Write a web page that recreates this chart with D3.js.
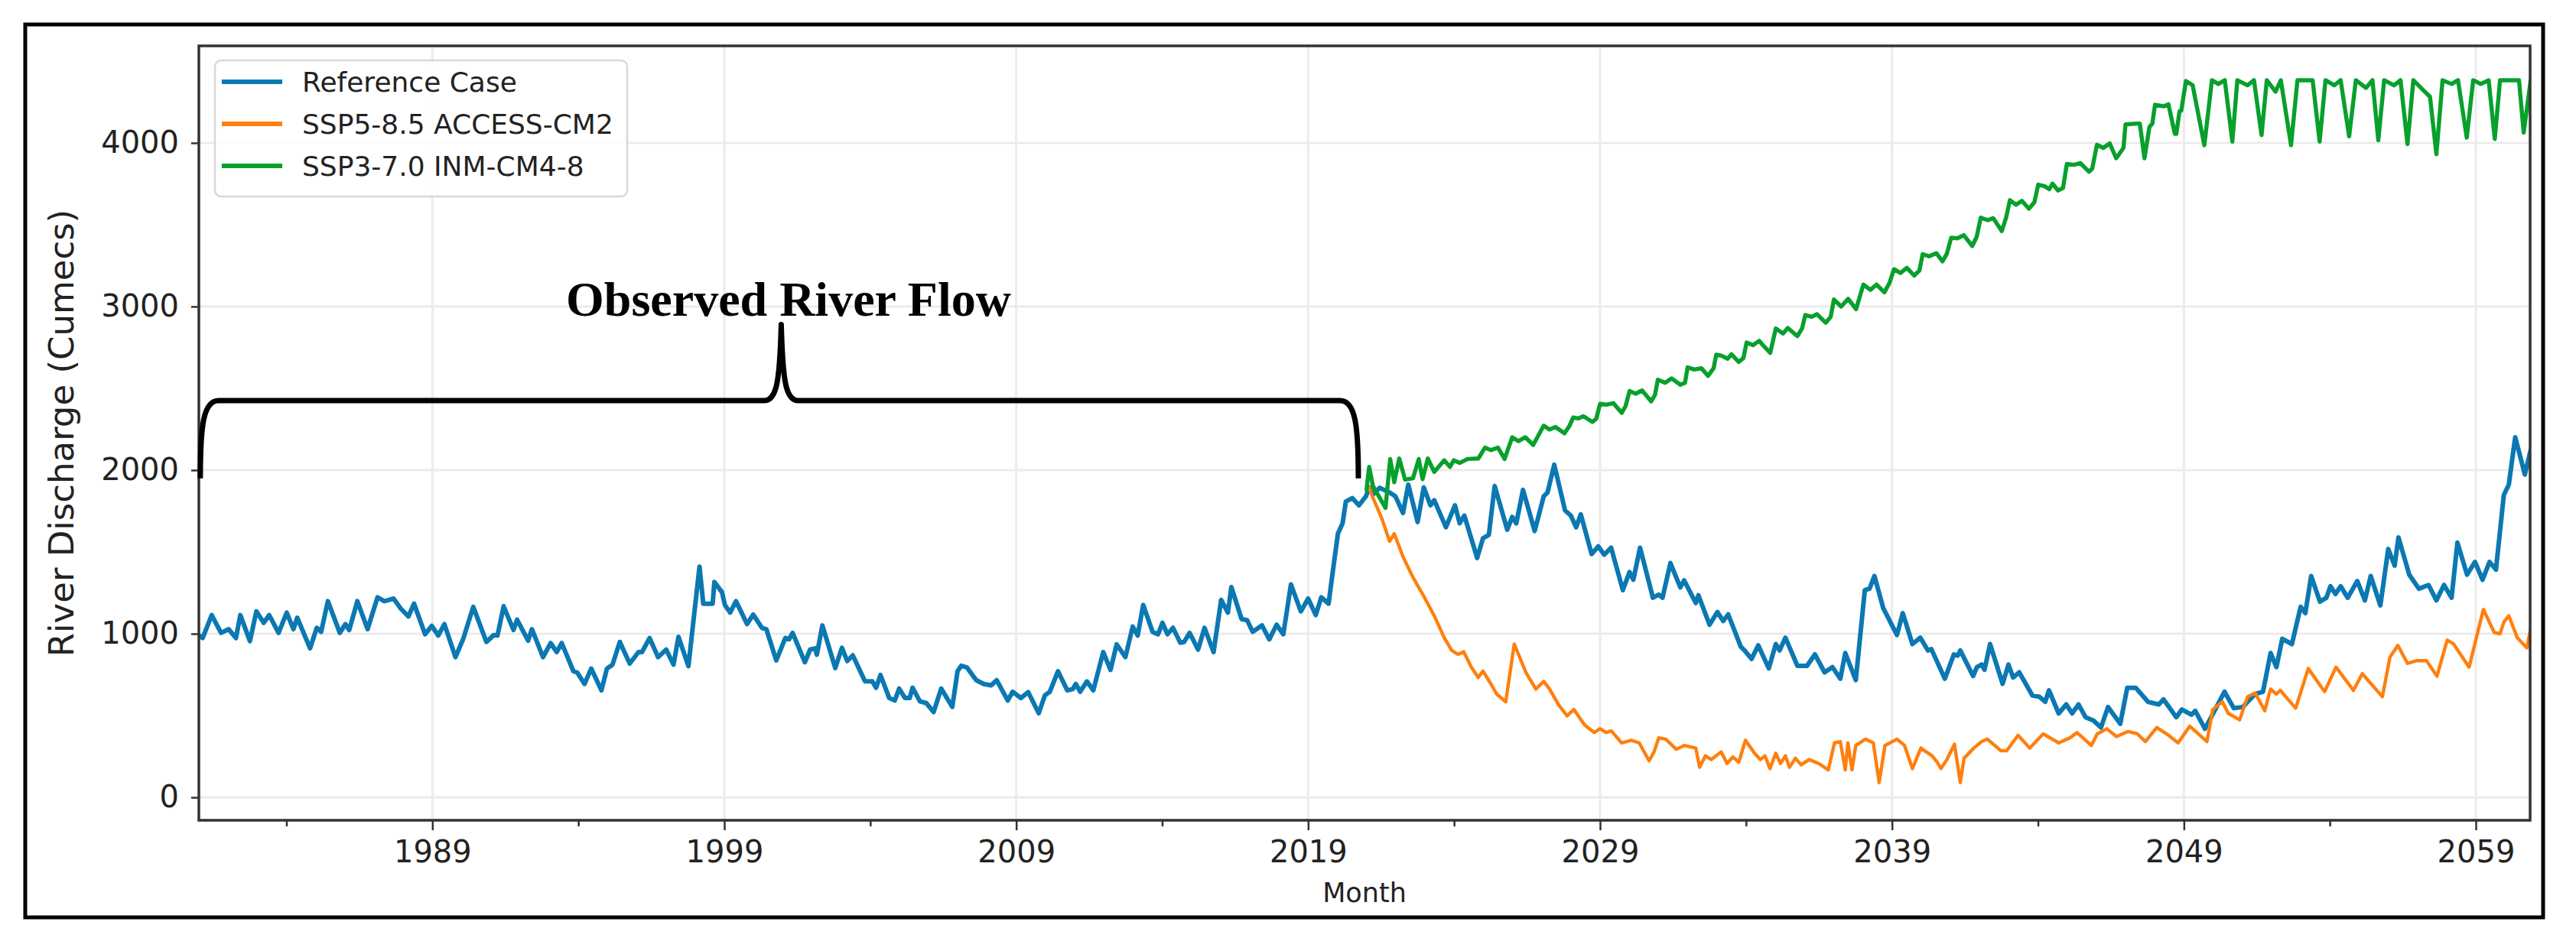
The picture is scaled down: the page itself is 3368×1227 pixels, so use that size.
<!DOCTYPE html>
<html>
<head>
<meta charset="utf-8">
<script src="https://cdn.jsdelivr.net/npm/d3@7"></script>
<style>
  html, body { margin: 0; padding: 0; background: #fff; }
  svg { display: block; }
</style>
</head>
<body>
<svg id="chart" width="3368" height="1227"></svg>
<script>
// ---------- DATA (decimal year, discharge in cumecs) ----------
const seriesNames = ["Reference Case", "SSP5-8.5 ACCESS-CM2", "SSP3-7.0 INM-CM4-8"];
const yTickValues = [0, 1000, 2000, 3000, 4000];
const xMajorTicks = [1989, 1999, 2009, 2019, 2029, 2039, 2049, 2059];
const xMinorTicks = [1984, 1994, 2004, 2014, 2024, 2034, 2044, 2054];
const annotationText = "Observed River Flow";

const referenceCase = [
[1981.00,990],[1981.13,974],[1981.44,1114],[1981.76,1005],[1982.02,1028],[1982.27,974],[1982.42,1114],[1982.75,955],
[1982.97,1137],[1983.22,1067],[1983.41,1114],[1983.73,1005],[1984.01,1129],[1984.24,1028],[1984.37,1098],[1984.81,911],
[1985.04,1036],[1985.19,1012],[1985.42,1199],[1985.83,1005],[1986.02,1059],[1986.15,1023],[1986.43,1199],[1986.78,1028],
[1987.12,1223],[1987.35,1199],[1987.67,1215],[1987.92,1153],[1988.18,1106],[1988.37,1184],[1988.75,997],[1988.98,1048],
[1989.20,989],[1989.41,1059],[1989.79,857],[1990.05,966],[1990.40,1164],[1990.85,950],[1991.10,992],[1991.23,989],
[1991.44,1168],[1991.78,1023],[1991.90,1086],[1992.28,958],[1992.41,1028],[1992.79,857],[1993.05,943],[1993.26,888],
[1993.43,943],[1993.83,771],[1993.96,763],[1994.21,693],[1994.44,787],[1994.79,654],[1994.98,787],[1995.17,811],
[1995.42,950],[1995.76,818],[1996.06,888],[1996.18,888],[1996.44,974],[1996.73,857],[1997.01,903],[1997.26,811],
[1997.43,981],[1997.77,802],[1998.15,1410],[1998.28,1184],[1998.60,1184],[1998.66,1316],[1998.92,1254],[1999.02,1176],
[1999.20,1129],[1999.40,1199],[1999.78,1059],[1999.99,1117],[2000.29,1036],[2000.44,1028],[2000.78,837],[2001.09,974],
[2001.22,966],[2001.34,1005],[2001.76,826],[2001.94,903],[2002.11,911],[2002.17,872],[2002.36,1051],[2002.80,790],
[2003.03,914],[2003.21,833],[2003.40,868],[2003.82,709],[2004.07,709],[2004.20,670],[2004.35,748],[2004.65,607],
[2004.84,592],[2004.99,665],[2005.19,607],[2005.35,607],[2005.45,670],[2005.70,587],[2005.92,576],[2006.17,522],
[2006.43,665],[2006.81,553],[2006.99,771],[2007.12,805],[2007.31,794],[2007.63,716],[2007.89,693],[2008.14,685],
[2008.33,716],[2008.71,592],[2008.88,646],[2009.16,607],[2009.41,643],[2009.77,514],[2009.98,623],[2010.15,646],
[2010.43,771],[2010.75,654],[2010.94,662],[2011.04,693],[2011.19,646],[2011.42,709],[2011.64,654],[2011.98,888],
[2012.23,779],[2012.44,935],[2012.74,857],[2012.99,1044],[2013.16,989],[2013.35,1176],[2013.67,1012],[2013.86,997],
[2014.01,1067],[2014.18,997],[2014.37,1036],[2014.62,945],[2014.75,950],[2014.94,1005],[2015.23,903],[2015.45,1036],
[2015.76,888],[2016.02,1207],[2016.25,1129],[2016.37,1285],[2016.72,1090],[2016.91,1083],[2017.10,1012],[2017.42,1051],
[2017.67,966],[2017.92,1055],[2018.15,997],[2018.41,1301],[2018.75,1137],[2019.00,1215],[2019.26,1114],[2019.45,1223],
[2019.70,1184],[2019.89,1441],[2020.02,1612],[2020.18,1675],[2020.29,1808],[2020.51,1829],[2020.74,1785],[2020.98,1840],
[2021.09,1895],[2021.22,1851],[2021.45,1892],[2021.79,1863],[2021.99,1840],[2022.25,1738],[2022.43,1911],[2022.75,1683],
[2022.96,1895],[2023.19,1785],[2023.32,1816],[2023.72,1651],[2024.03,1785],[2024.19,1675],[2024.35,1722],[2024.79,1463],
[2024.99,1584],[2025.19,1604],[2025.39,1903],[2025.82,1636],[2025.99,1714],[2026.13,1675],[2026.36,1879],[2026.76,1628],
[2027.07,1840],[2027.20,1863],[2027.43,2033],[2027.80,1754],[2028.00,1722],[2028.18,1651],[2028.34,1730],[2028.71,1487],
[2028.94,1534],[2029.14,1483],[2029.38,1526],[2029.78,1267],[2030.01,1377],[2030.14,1330],[2030.37,1526],[2030.81,1220],
[2031.01,1239],[2031.14,1220],[2031.41,1432],[2031.75,1283],[2031.88,1326],[2032.28,1188],[2032.37,1235],[2032.75,1055],
[2033.02,1133],[2033.22,1078],[2033.39,1118],[2033.82,921],[2033.95,898],[2034.19,846],[2034.42,929],[2034.78,788],
[2035.02,937],[2035.15,898],[2035.35,976],[2035.76,804],[2036.09,804],[2036.36,874],[2036.69,764],[2036.96,796],
[2037.23,725],[2037.40,882],[2037.76,717],[2038.07,1267],[2038.23,1275],[2038.40,1353],[2038.70,1157],[2039.17,992],
[2039.37,1126],[2039.70,937],[2039.97,976],[2040.23,898],[2040.35,906],[2040.81,725],[2041.12,874],[2041.25,866],
[2041.34,898],[2041.78,741],[2041.91,796],[2042.07,812],[2042.17,780],[2042.36,937],[2042.79,694],[2042.99,812],
[2043.15,733],[2043.36,764],[2043.81,623],[2044.05,615],[2044.25,584],[2044.38,654],[2044.71,513],[2044.97,568],
[2045.17,513],[2045.39,568],[2045.63,490],[2045.90,470],[2046.16,427],[2046.40,552],[2046.82,450],[2047.06,670],
[2047.35,670],[2047.77,584],[2048.14,568],[2048.30,599],[2048.74,490],[2048.93,537],[2049.26,505],[2049.39,529],
[2049.72,419],[2050.05,529],[2050.39,646],[2050.71,545],[2051.02,552],[2051.18,584],[2051.44,631],[2051.71,646],
[2051.97,882],[2052.17,796],[2052.37,969],[2052.70,937],[2053.00,1165],[2053.16,1126],[2053.36,1353],[2053.66,1196],
[2053.88,1220],[2054.02,1290],[2054.19,1243],[2054.37,1290],[2054.61,1220],[2054.94,1322],[2055.20,1204],[2055.40,1353],
[2055.73,1173],[2056.00,1518],[2056.22,1416],[2056.35,1589],[2056.72,1361],[2057.05,1275],[2057.38,1298],[2057.65,1204],
[2057.91,1298],[2058.17,1220],[2058.37,1557],[2058.70,1361],[2058.97,1439],[2059.23,1330],[2059.47,1439],[2059.69,1392],
[2059.96,1848],[2060.13,1911],[2060.35,2201],[2060.68,1973],[2060.90,2138]
];

const ssp585 = [
[2021.09,1895],[2021.18,1848],[2021.52,1706],[2021.79,1565],[2021.95,1612],[2022.25,1471],[2022.59,1345],[2022.99,1220],
[2023.32,1110],[2023.66,976],[2023.92,898],[2024.13,874],[2024.33,890],[2024.59,796],[2024.83,733],[2024.99,772],
[2025.26,694],[2025.46,631],[2025.77,584],[2026.06,937],[2026.46,764],[2026.80,662],[2027.07,709],[2027.27,662],
[2027.60,560],[2027.87,498],[2028.10,537],[2028.47,443],[2028.80,396],[2029.00,420],[2029.21,396],[2029.38,407],
[2029.74,333],[2030.07,349],[2030.34,333],[2030.68,223],[2030.85,278],[2031.01,364],[2031.25,356],[2031.61,294],
[2031.88,317],[2032.28,301],[2032.41,184],[2032.61,254],[2032.81,231],[2033.15,278],[2033.35,207],[2033.55,247],
[2033.75,215],[2033.98,349],[2034.29,270],[2034.49,231],[2034.65,254],[2034.82,176],[2035.02,270],[2035.18,207],
[2035.35,254],[2035.49,184],[2035.69,239],[2035.89,199],[2036.16,231],[2036.49,207],[2036.82,168],[2037.03,333],
[2037.23,341],[2037.40,168],[2037.49,333],[2037.63,168],[2037.76,317],[2038.09,356],[2038.36,333],[2038.56,90],
[2038.76,317],[2039.17,356],[2039.43,317],[2039.70,176],[2039.99,301],[2040.37,254],[2040.55,215],[2040.68,176],
[2040.88,231],[2041.14,325],[2041.34,90],[2041.47,239],[2041.80,301],[2042.07,341],[2042.27,356],[2042.73,285],
[2042.93,285],[2043.32,380],[2043.72,301],[2044.18,388],[2044.71,333],[2045.10,364],[2045.34,396],[2045.83,317],
[2046.03,388],[2046.36,419],[2046.69,372],[2047.09,403],[2047.41,388],[2047.68,341],[2048.07,427],[2048.47,380],
[2048.80,333],[2049.20,435],[2049.79,341],[2049.99,537],[2050.32,584],[2050.52,513],[2050.91,474],[2051.18,615],
[2051.44,638],[2051.77,529],[2051.97,662],[2052.17,631],[2052.30,654],[2052.83,545],[2053.26,788],[2053.82,646],
[2054.21,796],[2054.81,654],[2055.11,756],[2055.80,615],[2056.06,858],[2056.33,929],[2056.66,819],[2056.96,835],
[2057.31,835],[2057.67,741],[2058.02,961],[2058.24,937],[2058.77,796],[2059.26,1149],[2059.63,1008],[2059.83,1000],
[2059.96,1071],[2060.13,1110],[2060.42,976],[2060.75,914],[2060.90,1050]
];

const ssp370 = [
[2021.00,1880],[2021.09,2020],[2021.22,1903],[2021.65,1769],[2021.81,2068],[2021.95,1926],[2022.12,2071],[2022.32,1942],
[2022.59,1950],[2022.79,2068],[2022.92,1945],[2023.10,2071],[2023.32,1989],[2023.66,2060],[2023.86,2020],[2023.99,2060],
[2024.19,2044],[2024.46,2068],[2024.83,2071],[2025.06,2138],[2025.26,2122],[2025.50,2138],[2025.73,2068],[2025.99,2201],
[2026.20,2177],[2026.44,2201],[2026.71,2154],[2027.07,2272],[2027.27,2248],[2027.47,2264],[2027.78,2225],[2027.95,2270],
[2028.08,2322],[2028.26,2316],[2028.43,2329],[2028.74,2294],[2028.87,2314],[2029.00,2405],[2029.22,2400],[2029.46,2409],
[2029.74,2350],[2029.87,2389],[2030.01,2483],[2030.22,2467],[2030.44,2487],[2030.75,2420],[2030.88,2459],[2030.98,2553],
[2031.23,2534],[2031.45,2561],[2031.75,2522],[2031.91,2534],[2032.00,2628],[2032.23,2615],[2032.47,2623],[2032.70,2576],
[2032.89,2623],[2032.98,2706],[2033.15,2700],[2033.37,2681],[2033.50,2708],[2033.75,2661],[2033.91,2685],[2034.02,2780],
[2034.24,2764],[2034.45,2790],[2034.62,2756],[2034.83,2717],[2035.02,2866],[2035.27,2835],[2035.43,2869],[2035.76,2819],
[2035.92,2866],[2036.03,2948],[2036.25,2937],[2036.43,2953],[2036.73,2901],[2036.90,2937],[2037.01,3043],[2037.26,3000],
[2037.50,3047],[2037.77,2984],[2038.02,3134],[2038.26,3102],[2038.47,3134],[2038.74,3087],[2038.91,3142],[2039.07,3228],
[2039.29,3205],[2039.51,3236],[2039.76,3189],[2039.94,3220],[2040.05,3320],[2040.27,3307],[2040.52,3326],[2040.73,3276],
[2040.88,3323],[2041.03,3421],[2041.24,3417],[2041.46,3436],[2041.75,3370],[2041.90,3425],[2042.04,3543],[2042.28,3528],
[2042.47,3540],[2042.76,3461],[2042.91,3543],[2043.04,3650],[2043.25,3622],[2043.45,3646],[2043.69,3598],[2043.88,3638],
[2044.01,3745],[2044.23,3735],[2044.39,3717],[2044.50,3751],[2044.69,3709],[2044.86,3725],[2044.99,3871],[2045.23,3866],
[2045.45,3877],[2045.75,3824],[2045.86,3843],[2046.02,3988],[2046.24,3969],[2046.46,3997],[2046.68,3906],[2046.93,3969],
[2047.00,4113],[2047.40,4118],[2047.49,4118],[2047.65,3906],[2047.82,4098],[2047.92,4118],[2048.01,4233],[2048.31,4224],
[2048.47,4236],[2048.69,4055],[2048.74,4055],[2048.85,4193],[2048.91,4197],[2049.07,4378],[2049.30,4352],[2049.70,3986],
[2049.96,4383],[2050.18,4360],[2050.40,4383],[2050.66,4008],[2050.83,4383],[2051.18,4352],[2051.40,4383],[2051.66,4048],
[2051.84,4383],[2052.14,4313],[2052.32,4383],[2052.67,3986],[2052.89,4383],[2053.41,4383],[2053.65,4008],[2053.85,4383],
[2054.15,4352],[2054.37,4383],[2054.66,4040],[2054.89,4383],[2055.24,4336],[2055.46,4383],[2055.66,4016],[2055.86,4383],
[2056.20,4352],[2056.42,4383],[2056.66,3993],[2056.86,4383],[2057.25,4313],[2057.43,4282],[2057.65,3931],[2057.86,4383],
[2058.17,4360],[2058.39,4383],[2058.69,4032],[2058.91,4383],[2059.17,4360],[2059.44,4383],[2059.65,4024],[2059.83,4383],
[2060.48,4383],[2060.64,4063],[2060.88,4383]
];

// brace annotation (data coordinates)
const braceSpan = [1981.05, 2020.72];
const braceTipYear = 2000.95;
const braceLevels = { base: 1950, bar: 2425, tip: 2890 };
const annotationPos = [2001.2, 2944];

// ---------- LAYOUT ----------
const W = 3368, H = 1227;
const plot = { left: 260, right: 3308, top: 60, bottom: 1073 };
const colors = ["#0b78b2", "#ff7f0e", "#08a02c"];
const widths = [6, 4.4, 5.4];

const svg = d3.select("#chart");
svg.append("rect").attr("width", W).attr("height", H).attr("fill", "#fff");
// outer black frame
svg.append("rect").attr("x", 33).attr("y", 32).attr("width", 3292).attr("height", 1168)
  .attr("fill", "none").attr("stroke", "#000").attr("stroke-width", 5);

const x = d3.scaleLinear().domain([1981.0, 2060.86]).range([plot.left, plot.right]);
const y = d3.scaleLinear().domain([-140, 4593]).range([plot.bottom, plot.top]);

// grid
const grid = svg.append("g");
grid.selectAll(".gx").data(xMajorTicks).join("line")
  .attr("x1", d => x(d)).attr("x2", d => x(d)).attr("y1", plot.top).attr("y2", plot.bottom)
  .attr("stroke", "#ebebeb").attr("stroke-width", 3);
grid.selectAll(".gy").data(yTickValues).join("line")
  .attr("x1", plot.left).attr("x2", plot.right).attr("y1", d => y(d)).attr("y2", d => y(d))
  .attr("stroke", "#ebebeb").attr("stroke-width", 3);

// clip
svg.append("clipPath").attr("id", "clip").append("rect")
  .attr("x", plot.left).attr("y", plot.top)
  .attr("width", plot.right - plot.left).attr("height", plot.bottom - plot.top);

const line = d3.line().x(d => x(d[0])).y(d => y(d[1]));
const lines = svg.append("g").attr("clip-path", "url(#clip)");
[referenceCase, ssp585, ssp370].forEach((s, i) => {
  lines.append("path").datum(s).attr("d", line)
    .attr("fill", "none").attr("stroke", colors[i]).attr("stroke-width", widths[i])
    .attr("stroke-linejoin", "round").attr("stroke-linecap", "round");
});

// axes
const font = "'DejaVu Sans', sans-serif";
const yAxis = d3.axisLeft(y).tickValues(yTickValues).tickSize(10).tickPadding(16).tickFormat(d3.format("d"));
const gy = svg.append("g").attr("transform", `translate(${plot.left},0)`).call(yAxis);
gy.select(".domain").remove();
gy.selectAll("line").attr("stroke", "#333").attr("stroke-width", 2.5);
gy.selectAll("text").attr("font-family", font).attr("font-size", 40).attr("fill", "#222");

const xAxis = d3.axisBottom(x).tickValues(xMajorTicks).tickSize(13).tickPadding(14).tickFormat(d3.format("d"));
const gx = svg.append("g").attr("transform", `translate(0,${plot.bottom})`).call(xAxis);
gx.select(".domain").remove();
gx.selectAll("line").attr("stroke", "#333").attr("stroke-width", 2.5);
gx.selectAll("text").attr("font-family", font).attr("font-size", 40).attr("fill", "#222");

const xMinor = d3.axisBottom(x).tickValues(xMinorTicks).tickSize(8).tickFormat("");
const gxm = svg.append("g").attr("transform", `translate(0,${plot.bottom})`).call(xMinor);
gxm.select(".domain").remove();
gxm.selectAll("line").attr("stroke", "#333").attr("stroke-width", 2.5);

// spines
svg.append("rect").attr("x", plot.left).attr("y", plot.top)
  .attr("width", plot.right - plot.left).attr("height", plot.bottom - plot.top)
  .attr("fill", "none").attr("stroke", "#333").attr("stroke-width", 3.5);

// axis labels
svg.append("text").attr("transform", `translate(80,${(plot.top + plot.bottom) / 2}) rotate(-90)`)
  .attr("text-anchor", "middle").attr("dy", "0.35em")
  .attr("font-family", font).attr("font-size", 45).attr("fill", "#222")
  .text("River Discharge (Cumecs)");
svg.append("text").attr("x", (plot.left + plot.right) / 2).attr("y", 1180)
  .attr("text-anchor", "middle").attr("font-family", font).attr("font-size", 35).attr("fill", "#222")
  .text("Month");

// legend
const lg = svg.append("g");
lg.append("rect").attr("x", 281).attr("y", 79).attr("width", 539).attr("height", 178).attr("rx", 8)
  .attr("fill", "#fff").attr("fill-opacity", 0.85).attr("stroke", "#d8d8d8").attr("stroke-width", 2.5);
seriesNames.forEach((n, i) => {
  const yy = 107 + i * 55;
  lg.append("line").attr("x1", 290).attr("x2", 369).attr("y1", yy).attr("y2", yy)
    .attr("stroke", colors[i]).attr("stroke-width", 6);
  lg.append("text").attr("x", 395).attr("y", yy).attr("dy", "0.36em")
    .attr("font-family", font).attr("font-size", 36).attr("fill", "#222").text(n);
});

// brace
const xl = x(braceSpan[0]), xr = x(braceSpan[1]), xm = x(braceTipYear);
const yb = y(braceLevels.base), yh = y(braceLevels.bar), yt = y(braceLevels.tip);
const bp = d3.path();
bp.moveTo(xl, yb);
bp.bezierCurveTo(xl, yb - 70, xl + 4, yh, xl + 24, yh);
bp.lineTo(xm - 22, yh);
bp.bezierCurveTo(xm - 6, yh, xm - 2, yh - 25, xm, yt);
bp.bezierCurveTo(xm + 2, yh - 25, xm + 6, yh, xm + 22, yh);
bp.lineTo(xr - 24, yh);
bp.bezierCurveTo(xr - 4, yh, xr, yb - 70, xr, yb);
svg.append("path").attr("d", bp.toString()).attr("fill", "none")
  .attr("stroke", "#000").attr("stroke-width", 7).attr("stroke-linejoin", "round");

svg.append("text").attr("x", x(annotationPos[0])).attr("y", y(annotationPos[1]))
  .attr("text-anchor", "middle").attr("font-family", "'Liberation Serif', serif")
  .attr("font-weight", "bold").attr("font-size", 64).attr("fill", "#000").text(annotationText);
</script>
</body>
</html>
